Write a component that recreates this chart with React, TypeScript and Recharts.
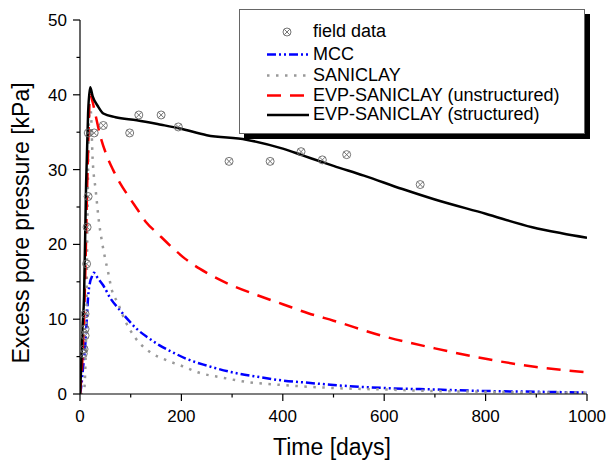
import { ComposedChart, Line, Scatter, XAxis, YAxis } from "recharts"

const xTicks = [0, 100, 200, 300, 400, 500, 600, 700, 800, 900, 1000]
const yTicks = [0, 5, 10, 15, 20, 25, 30, 35, 40, 45, 50]

const fieldT = [6.5, 8, 10, 10, 10, 13, 14, 16, 16.3, 28, 46, 98, 116, 160, 194, 294, 375, 436, 478, 526, 671]
const fieldV = [5.4, 6.0, 7.8, 8.7, 10.7, 17.4, 22.3, 26.4, 34.9, 34.9, 35.9, 34.9, 37.3, 37.3, 35.7, 31.1, 31.1, 32.4, 31.3, 32.0, 28.0]

const mccT = [0, 3, 6, 10, 13, 16, 20, 23, 27, 35, 46, 60, 79, 95, 112, 135, 157, 185, 210, 250, 300, 350, 400, 450, 500, 600, 700, 800, 900, 1000]
const mccV = [0, 1.3, 3.5, 6.2, 9.5, 13, 15, 15.6, 16.2, 15.5, 14.5, 12.8, 11.2, 9.9, 8.7, 7.5, 6.5, 5.5, 4.7, 3.8, 2.9, 2.3, 1.8, 1.5, 1.2, 0.8, 0.6, 0.4, 0.3, 0.2]

const saniT = [0, 8, 12, 15, 18, 21, 25, 31, 38, 43, 49, 56, 62, 75, 89, 108, 138, 171, 203, 232, 280, 330, 400, 500, 600, 700, 800, 900, 1000]
const saniV = [0, 0.5, 8, 25, 37, 38, 31.3, 27.2, 22.7, 20.5, 18.3, 16.1, 14.1, 12.1, 9.8, 7.6, 5.6, 4.5, 3.7, 2.9, 2.2, 1.6, 1.2, 0.8, 0.6, 0.4, 0.3, 0.2, 0.2]

const unstrT = [0, 5, 10, 15, 20, 25, 30, 40, 52, 65, 79, 95, 112, 130, 154, 180, 207, 250, 300, 350, 400, 450, 500, 600, 700, 800, 900, 1000]
const unstrV = [0, 5, 15, 30, 40, 39, 37.5, 34.5, 32, 30, 28.2, 26.5, 24.8, 23, 21.4, 19.7, 18.1, 16.2, 14.5, 13.2, 12, 10.8, 9.8, 7.7, 6.1, 4.7, 3.6, 2.9]

const strT = [0, 2, 5, 8, 12, 16, 20, 25, 35, 46, 70, 112, 160, 197, 250, 328, 400, 439, 500, 560, 636, 700, 800, 892, 950, 1000]
const strV = [0, 3, 8.9, 13, 28, 37.6, 41, 39.8, 38.5, 37.5, 37, 36.6, 36, 35.5, 34.6, 34, 32.8, 31.9, 30.5, 29.2, 27.4, 26.0, 24.1, 22.3, 21.5, 20.9]

const zip = (t: number[], v: number[]) => t.map((x, i) => ({ t: x, v: v[i] }))

const FONT = "'Liberation Sans', Arial, sans-serif"

const FieldMark = (props: any) => {
    const { cx, cy } = props
    const r = 4
    const d = r * 0.7
    return (
        <g stroke="#666" strokeWidth={0.9} fill="none">
            <circle cx={cx} cy={cy} r={r} />
            <line x1={cx - d} y1={cy - d} x2={cx + d} y2={cy + d} />
            <line x1={cx - d} y1={cy + d} x2={cx + d} y2={cy - d} />
        </g>
    )
}

const XTick = (props: any) => {
    const { x, y, payload } = props
    const major = payload.value % 200 === 0
    return (
        <g>
            <line x1={x} x2={x} y1={y} y2={y + (major ? 7 : 3.5)} stroke="#000" strokeWidth={1.2} />
            {major && (
                <text x={x} y={y + 28} textAnchor="middle" fontSize={17} fontFamily={FONT} fill="#000">{payload.value}</text>
            )}
        </g>
    )
}

const YTick = (props: any) => {
    const { x, y, payload } = props
    const major = payload.value % 10 === 0
    return (
        <g>
            <line x1={x} x2={x - (major ? 7 : 3.5)} y1={y} y2={y} stroke="#000" strokeWidth={1.2} />
            {major && (
                <text x={x - 13} y={y + 6} textAnchor="end" fontSize={17} fontFamily={FONT} fill="#000">{payload.value}</text>
            )}
        </g>
    )
}

const legendItems = [
    { name: "field data", kind: "marker" },
    { name: "MCC", stroke: "#0000ff", dash: "9 3 2 3 2 3" },
    { name: "SANICLAY", stroke: "#999999", dash: "2.5 6.5" },
    { name: "EVP-SANICLAY (unstructured)", stroke: "#ff0000", dash: "14 9" },
    { name: "EVP-SANICLAY (structured)", stroke: "#000000", dash: undefined },
]
const legendBase = [27, 49.5, 70.5, 90.5, 110]

const LegendBox = () => (
    <svg
        width={346}
        height={125}
        style={{ position: "absolute", left: 239, top: 9, background: "#fff", border: "1px solid #666", boxSizing: "border-box", boxShadow: "5px 5px 0 #000" }}
    >
        {legendItems.map((it, i) => {
            const y = legendBase[i]
            return (
                <g key={it.name}>
                    {it.kind === "marker" ? (
                        <FieldMark cx={47} cy={y - 5} />
                    ) : (
                        <line x1={27} x2={69} y1={y - 5} y2={y - 5} stroke={it.stroke} strokeWidth={2.5} strokeDasharray={it.dash} />
                    )}
                    <text x={73} y={y} fontSize={18} fontFamily={FONT} fill="#000">{it.name}</text>
                </g>
            )
        })}
    </svg>
)

export default function App() {
    return (
        <div style={{ position: "absolute", left: 0, top: 0, width: 607, height: 462, background: "#fff" }}>
            <ComposedChart width={607} height={462} margin={{ top: 20, right: 20, left: 0, bottom: 0 }}>
                <XAxis
                    type="number"
                    dataKey="t"
                    domain={[0, 1000]}
                    ticks={xTicks}
                    height={68}
                    stroke="#000"
                    strokeWidth={1.2}
                    tickLine={false}
                    tickSize={0}
                    tickMargin={0}
                    tick={<XTick />}
                    interval={0}
                    allowDataOverflow
                    label={() => (
                        <text x={332} y={455} textAnchor="middle" fontSize={23} fontFamily={FONT} fill="#000">Time [days]</text>
                    )}
                />
                <YAxis
                    type="number"
                    dataKey="v"
                    domain={[0, 50]}
                    ticks={yTicks}
                    width={80}
                    stroke="#000"
                    strokeWidth={1.2}
                    tickLine={false}
                    tickSize={0}
                    tickMargin={0}
                    tick={<YTick />}
                    interval={0}
                    allowDataOverflow
                    label={() => (
                        <text x={29} y={223} transform="rotate(-90 29 223)" textAnchor="middle" fontSize={23} fontFamily={FONT} fill="#000">Excess pore pressure [kPa]</text>
                    )}
                />
                <Line data={zip(mccT, mccV)} dataKey="v" type="monotone" stroke="#0000ff" strokeWidth={2.5} strokeDasharray="9 3 2 3 2 3" dot={false} isAnimationActive={false} />
                <Line data={zip(saniT, saniV)} dataKey="v" type="monotone" stroke="#999999" strokeWidth={2.5} strokeDasharray="2.5 6.5" dot={false} isAnimationActive={false} />
                <Line data={zip(unstrT, unstrV)} dataKey="v" type="monotone" stroke="#ff0000" strokeWidth={2.5} strokeDasharray="14 9" dot={false} isAnimationActive={false} />
                <Line data={zip(strT, strV)} dataKey="v" type="monotone" stroke="#000000" strokeWidth={2.5} dot={false} isAnimationActive={false} />
                <Scatter data={zip(fieldT, fieldV)} dataKey="v" shape={<FieldMark />} isAnimationActive={false} />
            </ComposedChart>
            <LegendBox />
        </div>
    )
}
